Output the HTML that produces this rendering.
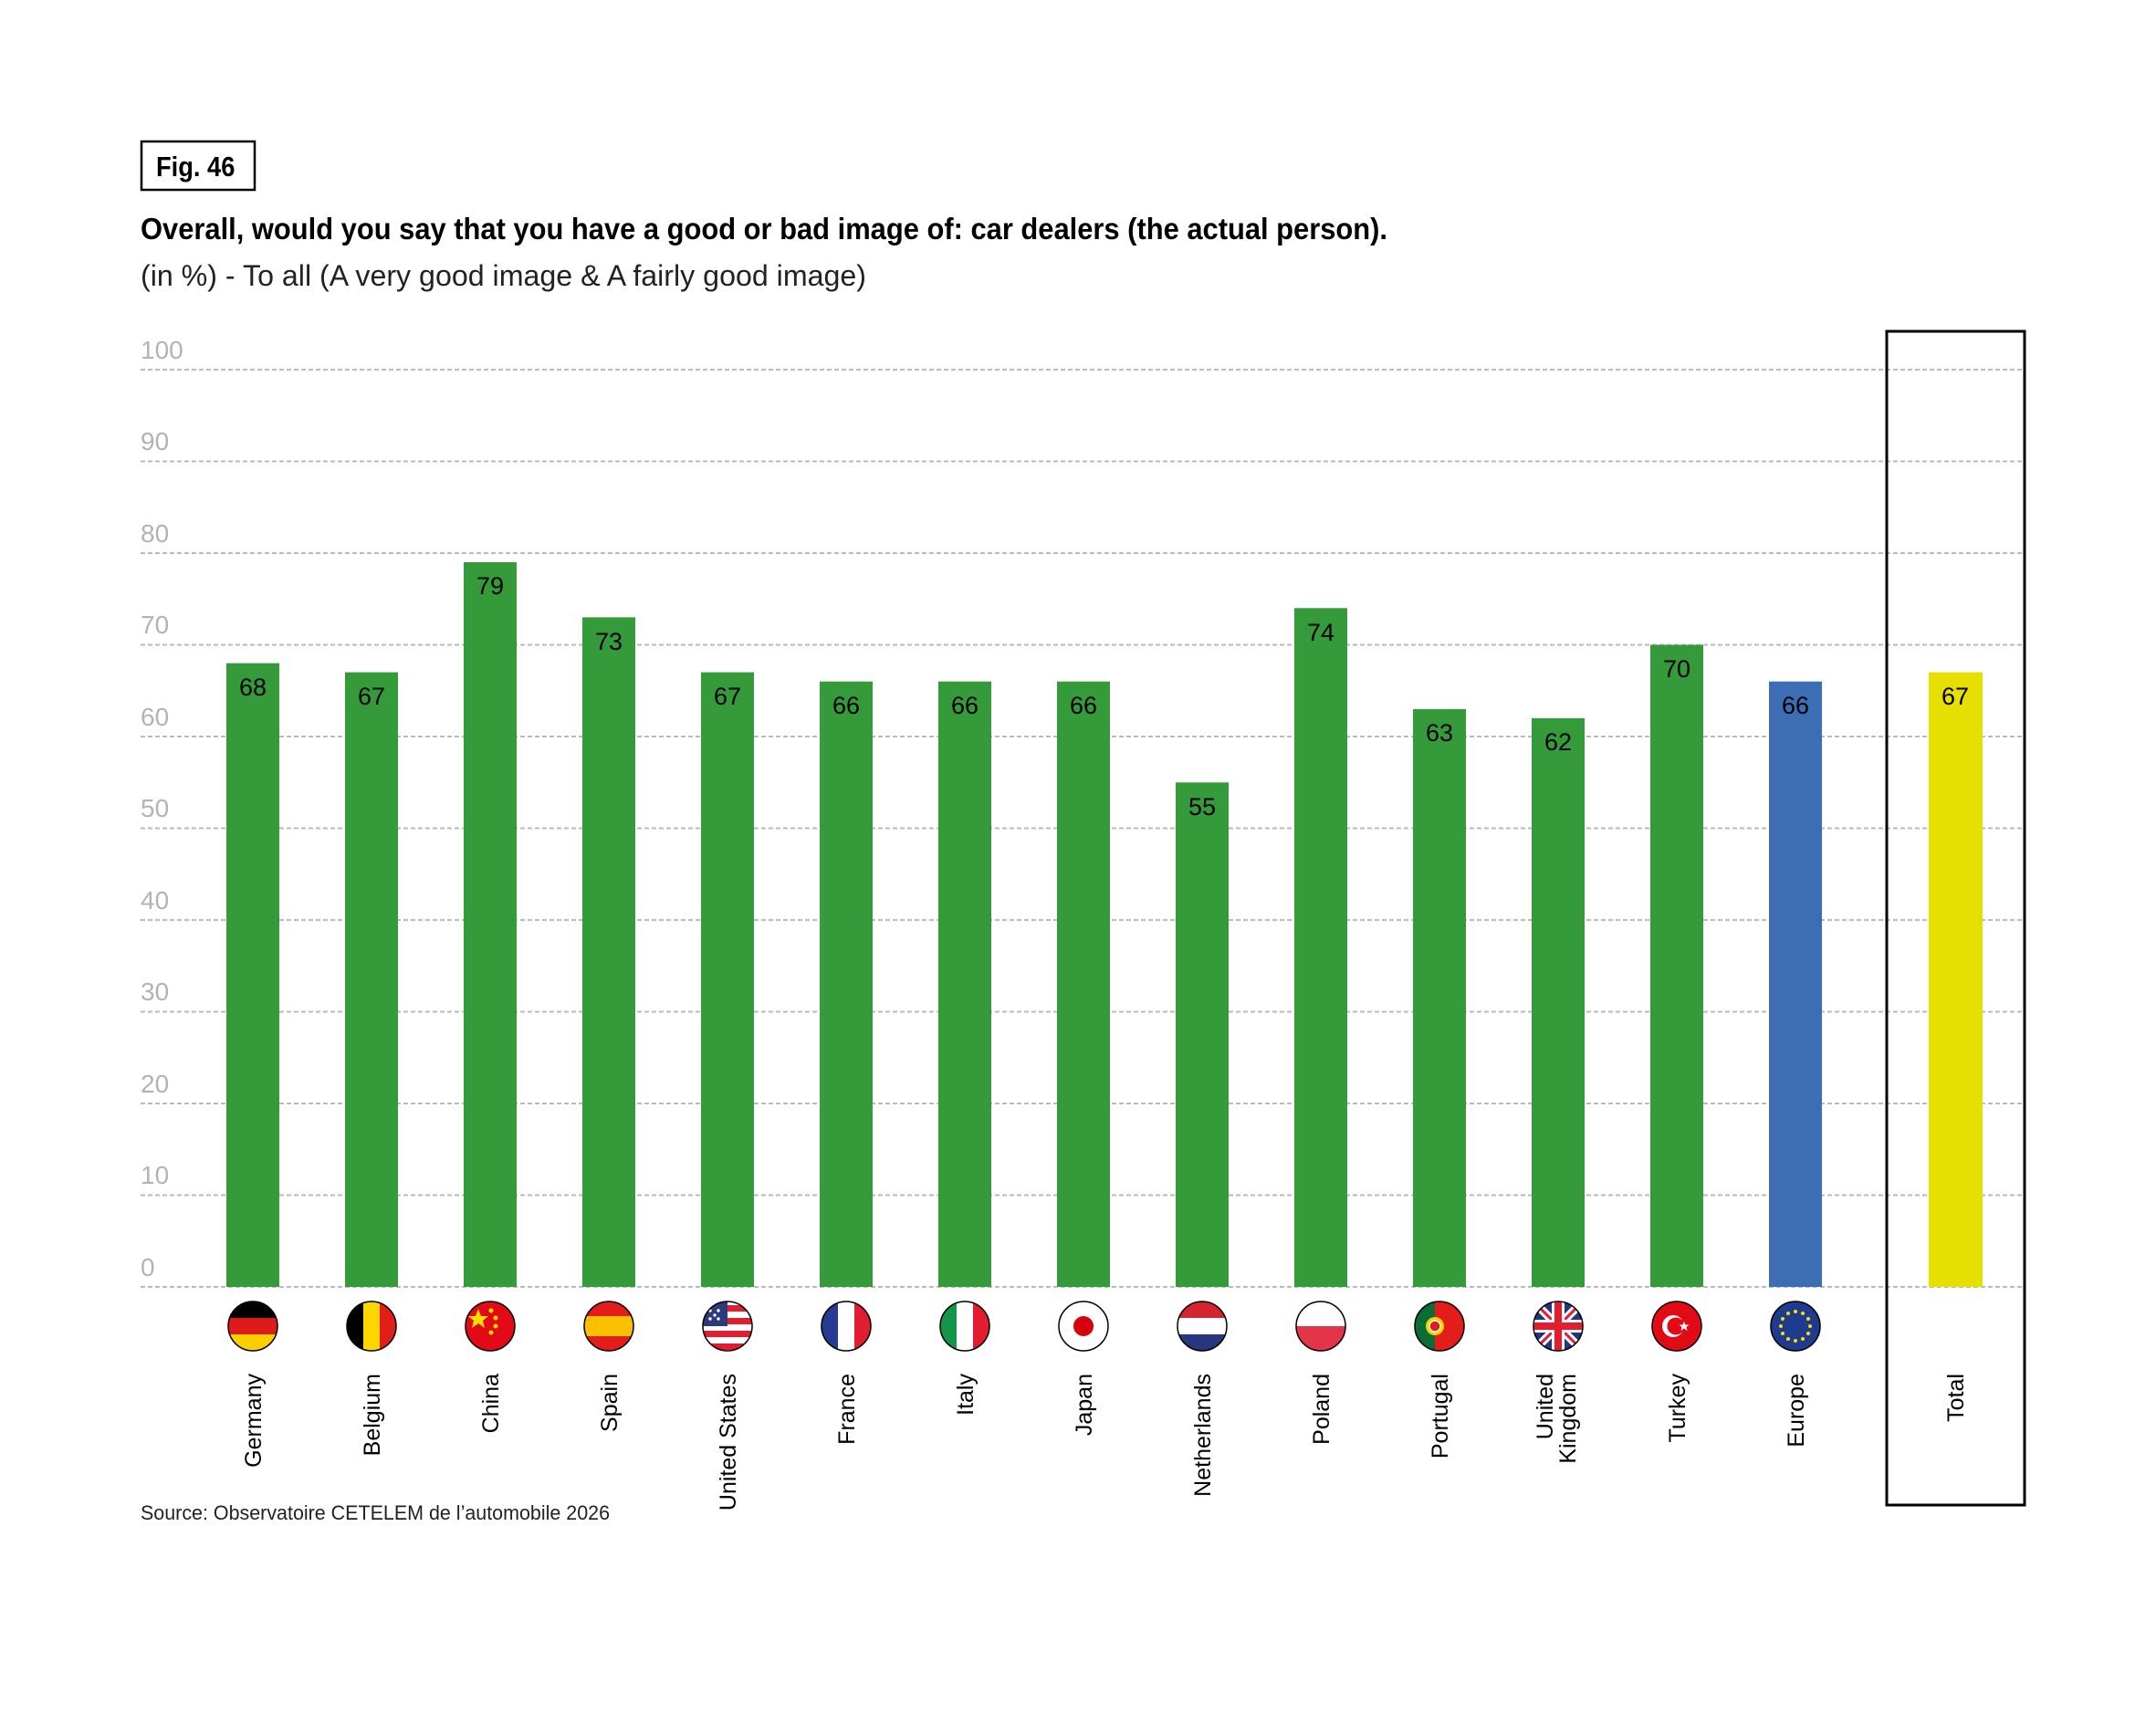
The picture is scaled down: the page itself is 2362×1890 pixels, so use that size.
<!DOCTYPE html>
<html><head><meta charset="utf-8"><style>
html,body{margin:0;padding:0;background:#fff;}
svg{display:block;font-family:"Liberation Sans",sans-serif;}
</style></head><body>
<svg width="2362" height="1890" viewBox="0 0 2362 1890" xmlns="http://www.w3.org/2000/svg">
<defs><clipPath id="c"><circle cx="0" cy="0" r="27"/></clipPath></defs>
<rect width="2362" height="1890" fill="#fff"/>
<rect x="155" y="155" width="124" height="53" fill="none" stroke="#000" stroke-width="2.5"/>
<text x="171" y="193" font-size="31" font-weight="bold" transform="translate(171,0) scale(0.88,1) translate(-171,0)">Fig. 46</text>
<text x="154" y="262" font-size="33" font-weight="bold" textLength="1366" lengthAdjust="spacingAndGlyphs">Overall, would you say that you have a good or bad image of: car dealers (the actual person).</text>
<text x="154" y="313" font-size="32" fill="#222" textLength="795" lengthAdjust="spacingAndGlyphs">(in %) - To all (A very good image &amp; A fairly good image)</text>
<g stroke="#bbb" stroke-width="2" stroke-dasharray="5,3">
<line x1="154" x2="2218" y1="405" y2="405"/><line x1="154" x2="2218" y1="505.5" y2="505.5"/>
<line x1="154" x2="2218" y1="606" y2="606"/><line x1="154" x2="2218" y1="706.5" y2="706.5"/>
<line x1="154" x2="2218" y1="807" y2="807"/><line x1="154" x2="2218" y1="907.5" y2="907.5"/>
<line x1="154" x2="2218" y1="1008" y2="1008"/><line x1="154" x2="2218" y1="1108.5" y2="1108.5"/>
<line x1="154" x2="2218" y1="1209" y2="1209"/><line x1="154" x2="2218" y1="1309.5" y2="1309.5"/>
<line x1="154" x2="2218" y1="1410" y2="1410"/>
</g>
<g font-size="28" fill="#b3b3b3">
<text x="154" y="393">100</text><text x="154" y="493">90</text><text x="154" y="594">80</text>
<text x="154" y="694">70</text><text x="154" y="795">60</text><text x="154" y="895">50</text>
<text x="154" y="996">40</text><text x="154" y="1096">30</text><text x="154" y="1197">20</text>
<text x="154" y="1297">10</text><text x="154" y="1398">0</text>
</g>
<rect x="2067" y="363" width="151" height="1286" fill="none" stroke="#000" stroke-width="3"/>
<g fill="#359a3a">
<rect x="248" y="726.6" width="58" height="683.4"/>
<rect x="378" y="736.6" width="58" height="673.4"/>
<rect x="508" y="616" width="58" height="794"/>
<rect x="638" y="676.4" width="58" height="733.6"/>
<rect x="768" y="736.6" width="58" height="673.4"/>
<rect x="898" y="746.7" width="58" height="663.3"/>
<rect x="1028" y="746.7" width="58" height="663.3"/>
<rect x="1158" y="746.7" width="58" height="663.3"/>
<rect x="1288" y="857.3" width="58" height="552.7"/>
<rect x="1418" y="666.3" width="58" height="743.7"/>
<rect x="1548" y="776.9" width="58" height="633.1"/>
<rect x="1678" y="786.9" width="58" height="623.1"/>
<rect x="1808" y="706.5" width="58" height="703.5"/>
</g>
<rect x="1938" y="746.7" width="58" height="663.3" fill="#3d6eb4"/>
<rect x="2113" y="736.6" width="59" height="673.4" fill="#e6e000"/>
<g font-size="27" text-anchor="middle" fill="#000">
<text x="277" y="762">68</text><text x="407" y="772">67</text><text x="537" y="651">79</text>
<text x="667" y="712">73</text><text x="797" y="772">67</text><text x="927" y="782">66</text>
<text x="1057" y="782">66</text><text x="1187" y="782">66</text><text x="1317" y="893">55</text>
<text x="1447" y="702">74</text><text x="1577" y="812">63</text><text x="1707" y="822">62</text>
<text x="1837" y="742">70</text><text x="1967" y="782">66</text><text x="2142" y="772">67</text>
</g>
<!-- flags -->
<g transform="translate(277,1453)"><g clip-path="url(#c)"><rect x="-27" y="-27" width="54" height="18" fill="#000"/><rect x="-27" y="-9" width="54" height="18" fill="#dd1c1a"/><rect x="-27" y="9" width="54" height="18" fill="#ffce00"/></g><circle r="27" fill="none" stroke="#000" stroke-width="1.5"/></g>
<g transform="translate(407,1453)"><g clip-path="url(#c)"><rect x="-27" y="-27" width="18" height="54" fill="#000"/><rect x="-9" y="-27" width="18" height="54" fill="#ffd500"/><rect x="9" y="-27" width="18" height="54" fill="#e31d1a"/></g><circle r="27" fill="none" stroke="#000" stroke-width="1.5"/></g>
<g transform="translate(537,1453)"><circle r="27" fill="#e30a17"/><polygon points="-13,-19 -10,-11 -2,-11 -8,-6 -6,2 -13,-3 -20,2 -18,-6 -24,-11 -16,-11" fill="#ffde00"/><circle cx="1" cy="-17" r="2.5" fill="#ffde00"/><circle cx="6" cy="-9" r="2.5" fill="#ffde00"/><circle cx="6" cy="0" r="2.5" fill="#ffde00"/><circle cx="1" cy="7" r="2.5" fill="#ffde00"/><circle r="27" fill="none" stroke="#000" stroke-width="1.5"/></g>
<g transform="translate(667,1453)"><g clip-path="url(#c)"><rect x="-27" y="-27" width="54" height="54" fill="#e31d1a"/><rect x="-27" y="-11" width="54" height="22" fill="#fbc000"/></g><circle r="27" fill="none" stroke="#000" stroke-width="1.5"/></g>
<g transform="translate(797,1453)"><g clip-path="url(#c)"><rect x="-27" y="-27" width="54" height="54" fill="#fff"/><rect x="-27" y="-23" width="54" height="7" fill="#e31d2f"/><rect x="-27" y="-9" width="54" height="7" fill="#e31d2f"/><rect x="-27" y="5" width="54" height="7" fill="#e31d2f"/><rect x="-27" y="19" width="54" height="7" fill="#e31d2f"/><rect x="-27" y="-27" width="27" height="27" fill="#2a3a7a"/><circle cx="-19" cy="-17" r="1.7" fill="#fff"/><circle cx="-10" cy="-17" r="1.7" fill="#fff"/><circle cx="-19" cy="-8" r="1.7" fill="#fff"/><circle cx="-10" cy="-8" r="1.7" fill="#fff"/><circle cx="-14" cy="-12" r="1.7" fill="#fff"/></g><circle r="27" fill="none" stroke="#000" stroke-width="1.5"/></g>
<g transform="translate(927,1453)"><g clip-path="url(#c)"><rect x="-27" y="-27" width="18" height="54" fill="#283b92"/><rect x="-9" y="-27" width="18" height="54" fill="#fff"/><rect x="9" y="-27" width="18" height="54" fill="#e31d2f"/></g><circle r="27" fill="none" stroke="#000" stroke-width="1.5"/></g>
<g transform="translate(1057,1453)"><g clip-path="url(#c)"><rect x="-27" y="-27" width="18" height="54" fill="#14964a"/><rect x="-9" y="-27" width="18" height="54" fill="#fff"/><rect x="9" y="-27" width="18" height="54" fill="#e31d2f"/></g><circle r="27" fill="none" stroke="#000" stroke-width="1.5"/></g>
<g transform="translate(1187,1453)"><circle r="27" fill="#fff"/><circle r="11" fill="#d7000f"/><circle r="27" fill="none" stroke="#000" stroke-width="1.5"/></g>
<g transform="translate(1317,1453)"><g clip-path="url(#c)"><rect x="-27" y="-27" width="54" height="18" fill="#d3252f"/><rect x="-27" y="-9" width="54" height="18" fill="#fff"/><rect x="-27" y="9" width="54" height="18" fill="#28367e"/></g><circle r="27" fill="none" stroke="#000" stroke-width="1.5"/></g>
<g transform="translate(1447,1453)"><g clip-path="url(#c)"><rect x="-27" y="-27" width="54" height="27" fill="#fff"/><rect x="-27" y="0" width="54" height="27" fill="#e3344a"/></g><circle r="27" fill="none" stroke="#000" stroke-width="1.5"/></g>
<g transform="translate(1577,1453)"><g clip-path="url(#c)"><rect x="-27" y="-27" width="22" height="54" fill="#0a6d34"/><rect x="-5" y="-27" width="32" height="54" fill="#e31d1a"/><circle cx="-5" cy="0" r="10" fill="#f6d300"/><circle cx="-5" cy="0" r="6" fill="#e31d1a" stroke="#fff" stroke-width="1.5"/></g><circle r="27" fill="none" stroke="#000" stroke-width="1.5"/></g>
<g transform="translate(1707,1453)"><g clip-path="url(#c)"><rect x="-27" y="-27" width="54" height="54" fill="#24357a"/><line x1="-27" y1="-27" x2="27" y2="27" stroke="#fff" stroke-width="9"/><line x1="27" y1="-27" x2="-27" y2="27" stroke="#fff" stroke-width="9"/><line x1="-27" y1="-27" x2="27" y2="27" stroke="#e31d2f" stroke-width="3"/><line x1="27" y1="-27" x2="-27" y2="27" stroke="#e31d2f" stroke-width="3"/><rect x="-7" y="-27" width="14" height="54" fill="#fff"/><rect x="-27" y="-7" width="54" height="14" fill="#fff"/><rect x="-4" y="-27" width="8" height="54" fill="#e31d2f"/><rect x="-27" y="-4" width="54" height="8" fill="#e31d2f"/></g><circle r="27" fill="none" stroke="#000" stroke-width="1.5"/></g>
<g transform="translate(1837,1453)"><circle r="27" fill="#e30a17"/><circle cx="-4" cy="0" r="12" fill="#fff"/><circle cx="-1" cy="0" r="9.5" fill="#e30a17"/><polygon points="8,-5 9.5,-1.5 13.5,-1.5 10.5,1 11.5,5 8,2.5 4.5,5 5.5,1 2.5,-1.5 6.5,-1.5" fill="#fff"/><circle r="27" fill="none" stroke="#000" stroke-width="1.5"/></g>
<g transform="translate(1967,1453)"><circle r="27" fill="#1f3b8f"/><g fill="#ffdd00"><circle cx="0" cy="-16" r="2"/><circle cx="8" cy="-14" r="2"/><circle cx="14" cy="-8" r="2"/><circle cx="16" cy="0" r="2"/><circle cx="14" cy="8" r="2"/><circle cx="8" cy="14" r="2"/><circle cx="0" cy="16" r="2"/><circle cx="-8" cy="14" r="2"/><circle cx="-14" cy="8" r="2"/><circle cx="-16" cy="0" r="2"/><circle cx="-14" cy="-8" r="2"/><circle cx="-8" cy="-14" r="2"/></g><circle r="27" fill="none" stroke="#000" stroke-width="1.5"/></g>
<!-- labels -->
<g font-size="25" text-anchor="end" fill="#000">
<text transform="translate(286,1505) rotate(-90)">Germany</text>
<text transform="translate(416,1505) rotate(-90)">Belgium</text>
<text transform="translate(546,1505) rotate(-90)">China</text>
<text transform="translate(676,1505) rotate(-90)">Spain</text>
<text transform="translate(806,1505) rotate(-90)">United States</text>
<text transform="translate(936,1505) rotate(-90)">France</text>
<text transform="translate(1066,1505) rotate(-90)">Italy</text>
<text transform="translate(1196,1505) rotate(-90)">Japan</text>
<text transform="translate(1326,1505) rotate(-90)">Netherlands</text>
<text transform="translate(1456,1505) rotate(-90)">Poland</text>
<text transform="translate(1586,1505) rotate(-90)">Portugal</text>
<text transform="translate(1701,1505) rotate(-90)">United</text>
<text transform="translate(1726,1505) rotate(-90)">Kingdom</text>
<text transform="translate(1846,1505) rotate(-90)">Turkey</text>
<text transform="translate(1976,1505) rotate(-90)">Europe</text>
<text transform="translate(2151,1505) rotate(-90)">Total</text>
</g>
<text x="154" y="1665" font-size="22" fill="#222" textLength="514" lengthAdjust="spacingAndGlyphs">Source: Observatoire CETELEM de l’automobile 2026</text>
</svg>
</body></html>
